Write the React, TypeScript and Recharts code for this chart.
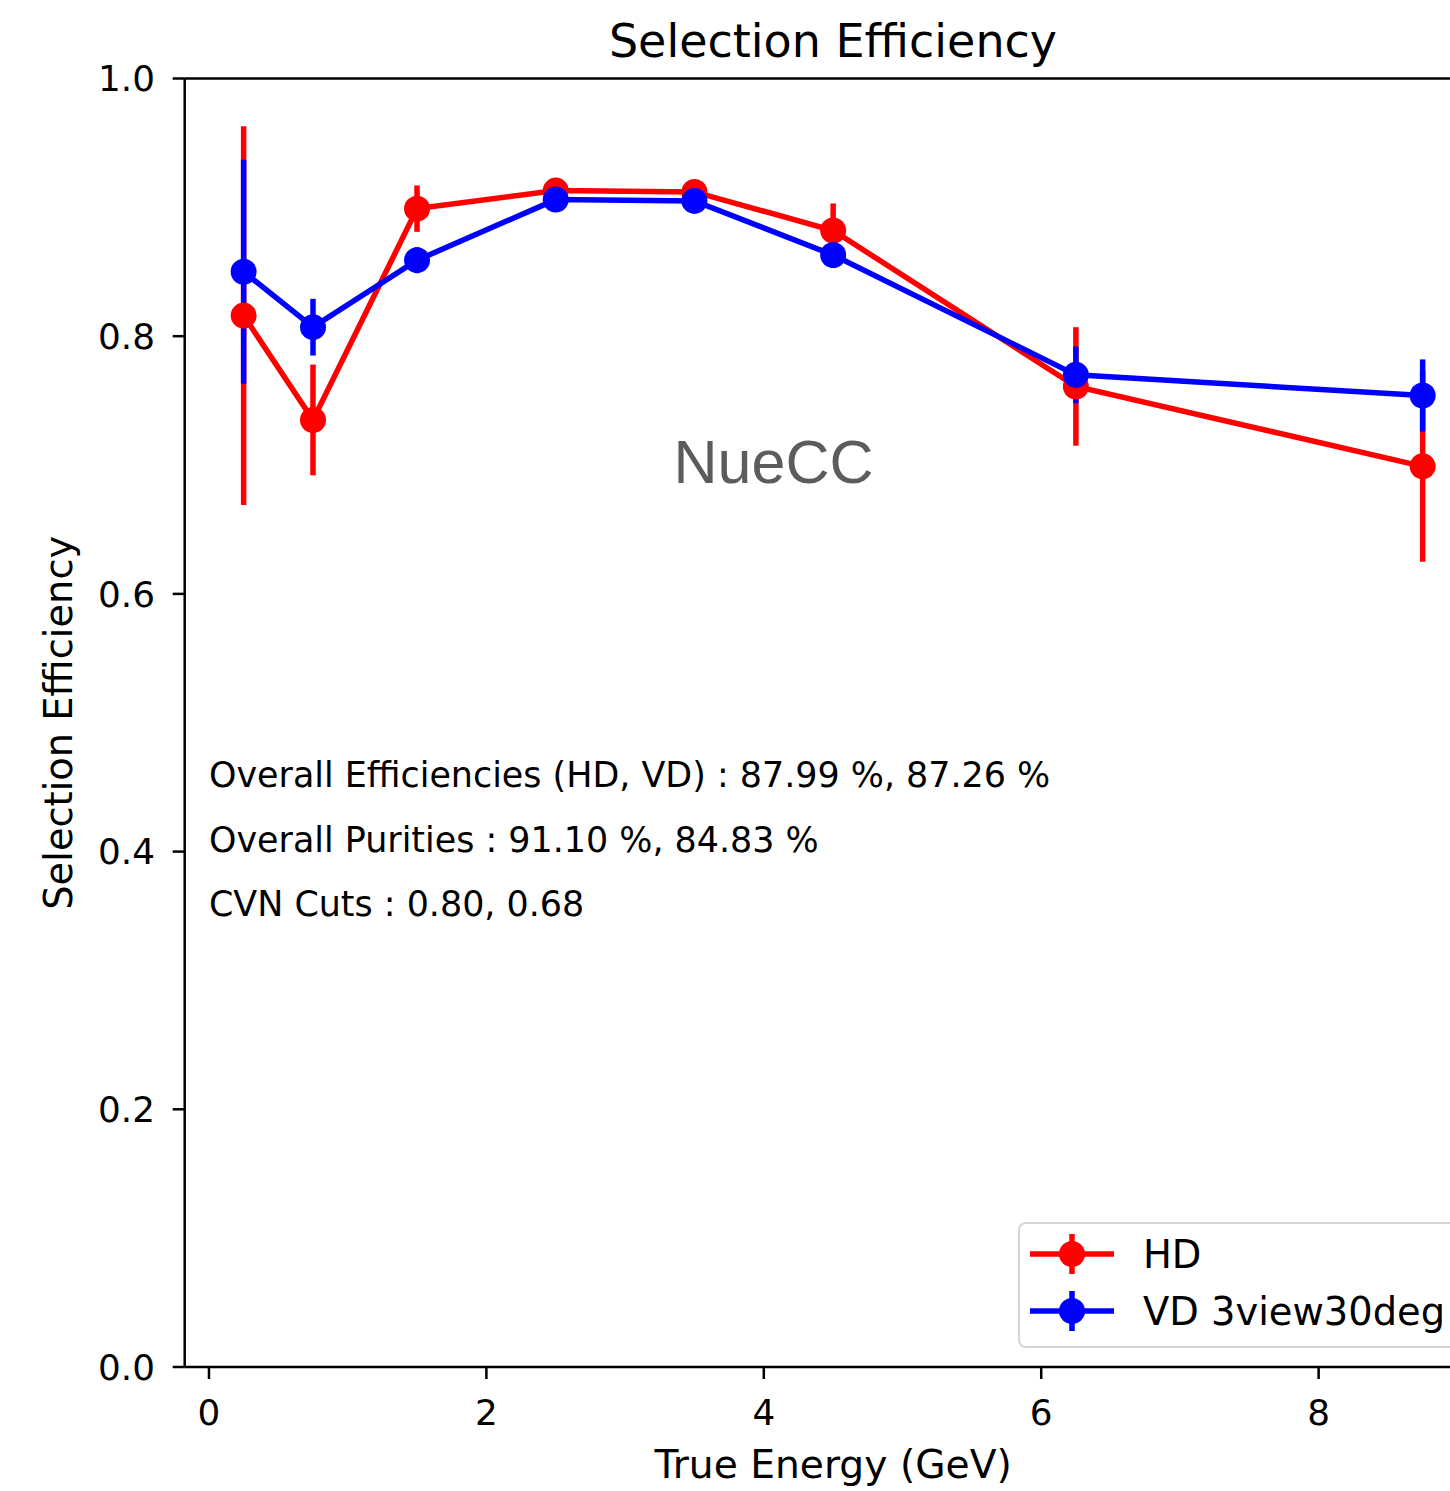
import React from 'react';
import {
  LineChart,
  Line,
  XAxis,
  YAxis,
  ErrorBar,
  Legend,
  ReferenceDot,
  ReferenceLine,
  Customized,
} from 'recharts';

// true neutrino energy bin centres (GeV)
const energy = [0.25, 0.75, 1.5, 2.5, 3.5, 4.5, 6.25, 8.75];

// selection efficiency per bin and its uncertainty
const hdEff = [0.816, 0.735, 0.899, 0.913, 0.912, 0.882, 0.761, 0.699];
const hdErr = [0.147, 0.043, 0.018, 0.008, 0.008, 0.021, 0.046, 0.074];
const vdEff = [0.85, 0.807, 0.859, 0.906, 0.905, 0.863, 0.77, 0.754];
const vdErr = [0.087, 0.022, 0.01, 0.008, 0.008, 0.01, 0.022, 0.028];

const xTicks = [0, 2, 4, 6, 8];
const yTicks = [0, 0.2, 0.4, 0.6, 0.8, 1.0];

const statLines = [
  'Overall Efficiencies (HD, VD) : 87.99 %, 87.26 %',
  'Overall Purities : 91.10 %, 84.83 %',
  'CVN Cuts : 0.80, 0.68',
];
const statY = [0.45, 0.4, 0.35];

const data = energy.map((e, i) => ({
  energy: e,
  hd: hdEff[i],
  hdErr: hdErr[i],
  vd: vdEff[i],
  vdErr: vdErr[i],
}));

const FONT = 'DejaVu Sans, sans-serif';
const TICK_FONT = 35.8;
const TEXT_FONT = 34.9;
const LABEL_FONT = 39.2;
const HD_COLOR = '#ff0000';
const VD_COLOR = '#0000ff';

const LegendBox = ({ payload }: any) => (
  <svg width={452} height={126} style={{ display: 'block' }}>
    <rect
      x={1}
      y={1}
      width={460}
      height={124}
      rx={7}
      fill="rgba(255,255,255,0.8)"
      stroke="#d6d6d6"
      strokeWidth={2}
    />
    {(payload || []).map((entry: any, i: number) => {
      const cy = 32 + i * 57;
      return (
        <g key={entry.value}>
          <line x1={12} x2={96} y1={cy} y2={cy} stroke={entry.color} strokeWidth={5.5} />
          <line x1={54} x2={54} y1={cy - 20} y2={cy + 20} stroke={entry.color} strokeWidth={5.5} />
          <circle cx={54} cy={cy} r={13} fill={entry.color} />
          <text x={125} y={cy + 14} fontSize={38.4} fontFamily={FONT} fill="#000">
            {entry.value}
          </text>
        </g>
      );
    })}
  </svg>
);

const Title = () => (
  <text x={833} y={57} textAnchor="middle" fontSize={46} fontFamily={FONT} fill="#000">
    Selection Efficiency
  </text>
);

export default function App() {
  return (
    <div style={{ width: 1450, height: 1491, overflow: 'hidden', position: 'relative', background: '#fff' }}>
      <style>{'body{margin:0}'}</style>
      <LineChart
        width={1490}
        height={1491}
        data={data}
        margin={{ top: 78.5, right: 8.4, bottom: 0, left: 0 }}
      >
        <XAxis
          dataKey="energy"
          type="number"
          domain={[-0.175, 9.175]}
          allowDataOverflow
          ticks={xTicks}
          height={124}
          tickSize={12}
          tickMargin={20.6}
          axisLine={{ stroke: '#000', strokeWidth: 2.5 }}
          tickLine={{ stroke: '#000', strokeWidth: 2.5 }}
          tick={{ fontSize: TICK_FONT, fontFamily: FONT, fill: '#000' }}
          label={{
            content: ({ viewBox }: any) => (
              <text
                x={viewBox.x + viewBox.width / 2}
                y={viewBox.y + 111}
                textAnchor="middle"
                fontSize={LABEL_FONT}
                fontFamily={FONT}
                fill="#000"
              >
                True Energy (GeV)
              </text>
            ),
          }}
        />
        <YAxis
          type="number"
          domain={[0, 1]}
          allowDataOverflow
          ticks={yTicks}
          width={184.7}
          tickSize={12}
          tickMargin={17.7}
          tickFormatter={(v: number) => v.toFixed(1)}
          axisLine={{ stroke: '#000', strokeWidth: 2.5 }}
          tickLine={{ stroke: '#000', strokeWidth: 2.5 }}
          tick={{ fontSize: TICK_FONT, fontFamily: FONT, fill: '#000' }}
          label={{
            content: ({ viewBox }: any) => {
              const cy = viewBox.y + viewBox.height / 2;
              return (
                <text
                  x={72}
                  y={cy}
                  transform={`rotate(-90, 72, ${cy})`}
                  textAnchor="middle"
                  fontSize={38.4}
                  fontFamily={FONT}
                  fill="#000"
                >
                  Selection Efficiency
                </text>
              );
            },
          }}
        />
        {/* top and right spines */}
        <ReferenceLine y={1} stroke="#000" strokeWidth={2.5} />
        <ReferenceLine x={9.175} stroke="#000" strokeWidth={2.5} />

        <Line
          name="HD"
          dataKey="hd"
          type="linear"
          stroke={HD_COLOR}
          strokeWidth={5.5}
          dot={{ r: 13, fill: HD_COLOR, stroke: HD_COLOR, strokeWidth: 0 }}
          activeDot={false}
          isAnimationActive={false}
        >
          <ErrorBar dataKey="hdErr" direction="y" width={0} stroke={HD_COLOR} strokeWidth={5.5} />
        </Line>
        <Line
          name="VD 3view30deg"
          dataKey="vd"
          type="linear"
          stroke={VD_COLOR}
          strokeWidth={5.5}
          dot={{ r: 13, fill: VD_COLOR, stroke: VD_COLOR, strokeWidth: 0 }}
          activeDot={false}
          isAnimationActive={false}
        >
          <ErrorBar dataKey="vdErr" direction="y" width={0} stroke={VD_COLOR} strokeWidth={5.5} />
        </Line>

        {statLines.map((txt, i) => (
          <ReferenceDot
            key={txt}
            x={0}
            y={statY[i]}
            r={0}
            fill="none"
            stroke="none"
            label={{
              content: ({ viewBox }: any) => (
                <text
                  x={viewBox.x + viewBox.width / 2}
                  y={viewBox.y + viewBox.height / 2}
                  fontSize={TEXT_FONT}
                  fontFamily={FONT}
                  fill="#000"
                >
                  {txt}
                </text>
              ),
            }}
          />
        ))}
        <ReferenceDot
          x={4.07}
          y={0.686}
          r={0}
          fill="none"
          stroke="none"
          label={{
            content: ({ viewBox }: any) => (
              <text
                x={viewBox.x + viewBox.width / 2}
                y={viewBox.y + viewBox.height / 2}
                textAnchor="middle"
                fontSize={61}
                fontFamily="Liberation Sans, Arial, sans-serif"
                fill="#5c5c5c"
              >
                NueCC
              </text>
            ),
          }}
        />

        <Legend
          layout="vertical"
          align="center"
          verticalAlign="middle"
          content={<LegendBox />}
          wrapperStyle={{ left: 1018, top: 1222, width: 452, height: 126 }}
        />
        <Customized component={Title} />
      </LineChart>
    </div>
  );
}
